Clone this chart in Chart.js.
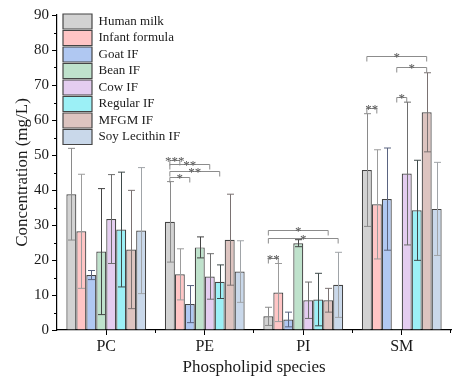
<!DOCTYPE html>
<html>
<head>
<meta charset="utf-8">
<script src="https://cdn.jsdelivr.net/npm/chart.js@4.4.1/dist/chart.umd.min.js"></script>
<style>
  html, body { margin: 0; padding: 0; background: #ffffff; }
  #wrap { width: 459px; height: 380px; }
</style>
</head>
<body>
<div id="wrap"><canvas id="c" width="459" height="380"></canvas></div>
<script>
// ---- data ----
const categories = ['PC', 'PE', 'PI', 'SM'];
const seriesNames = ['Human milk', 'Infant formula', 'Goat IF', 'Bean IF', 'Cow IF', 'Regular IF', 'MFGM IF', 'Soy Lecithin IF'];

const humanMilk      = [38.8, 30.9, 3.9, 45.7];
const infantFormula  = [28.2, 15.9, 10.7, 35.9];
const goatIF         = [15.7, 7.4, 3.0, 37.4];
const beanIF         = [22.4, 23.6, 24.8, 0.3];
const cowIF          = [31.7, 15.3, 8.5, 44.7];
const regularIF      = [28.7, 13.8, 8.7, 34.2];
const mfgmIF         = [23.0, 25.8, 8.5, 62.2];
const soyIF          = [28.4, 16.7, 12.9, 34.6];

const humanMilkErr     = [13.1, 11.5, 2.6, 16.1];
const infantFormulaErr = [16.3, 7.3, 8.3, 15.6];
const goatIFErr        = [1.3, 5.3, 2.1, 14.6];
const beanIFErr        = [18.0, 3.0, 1.0, 0];
const cowIFErr         = [12.7, 6.5, 5.2, 20.4];
const regularIFErr     = [16.4, 4.8, 7.5, 14.3];
const mfgmIFErr        = [16.9, 13.0, 3.4, 11.3];
const soyIFErr         = [18.0, 8.8, 9.3, 13.3];

const yTicks = [0, 10, 20, 30, 40, 50, 60, 70, 80, 90];

// significance brackets: category index, from series, to series, level (mg/L), label
const bracketCat   = [1, 1, 1, 1, 2, 2, 2, 3, 3, 3, 3];
const bracketFrom  = [0, 0, 0, 0, 0, 0, 0, 0, 3, 3, 0];
const bracketTo    = [1, 4, 5, 2, 6, 7, 1, 6, 6, 4, 1];
const bracketLevel = [48.6, 47.4, 45.5, 43.8, 28.6, 26.2, 20.7, 78.4, 75.2, 66.5, 63.5];
const bracketLabel = ['***', '**', '**', '*', '*', '*', '**', '*', '*', '*', '**'];

// ---- styles ----
const fills = ['#d2d2d2', '#ffc5c5', '#b0c8f2', '#bfe2cc', '#e4cdf0', '#9cf0f6', '#ddc4c0', '#c9d8ea'];
const errColors = ['#8a8a8a', '#9c9c9c', '#5a6480', '#444444', '#6e6e6e', '#3f4a4a', '#7a7272', '#a0a4a8'];
const values = [humanMilk, infantFormula, goatIF, beanIF, cowIF, regularIF, mfgmIF, soyIF];
const errors = [humanMilkErr, infantFormulaErr, goatIFErr, beanIFErr, cowIFErr, regularIFErr, mfgmIFErr, soyIFErr];

const SERIF = "'Liberation Serif', 'Times New Roman', serif";
Chart.defaults.font.family = SERIF;
Chart.defaults.color = '#1a1a1a';

const datasets = seriesNames.map((name, i) => ({
  label: name,
  data: values[i],
  errors: errors[i],
  errorColor: errColors[i],
  backgroundColor: fills[i],
  borderColor: '#454545',
  borderWidth: 1.2,
  barPercentage: 1.0,
  categoryPercentage: 0.81
}));

const errorBarPlugin = {
  id: 'errorBars',
  afterDatasetsDraw(chart) {
    const ctx = chart.ctx;
    const ys = chart.scales.y;
    ctx.save();
    chart.data.datasets.forEach((ds, i) => {
      const meta = chart.getDatasetMeta(i);
      meta.data.forEach((el, j) => {
        const e = ds.errors[j];
        if (!e) return;
        const v = ds.data[j];
        const yt = ys.getPixelForValue(v + e);
        const yb = ys.getPixelForValue(Math.max(0, v - e));
        const x = Math.round(el.x) + 0.5;
        ctx.strokeStyle = ds.errorColor;
        ctx.lineWidth = 1;
        ctx.beginPath();
        ctx.moveTo(x, yt); ctx.lineTo(x, yb);
        ctx.moveTo(x - 3.5, yt); ctx.lineTo(x + 3.5, yt);
        ctx.moveTo(x - 3.5, yb); ctx.lineTo(x + 3.5, yb);
        ctx.stroke();
      });
    });
    ctx.restore();
  }
};

const bracketPlugin = {
  id: 'brackets',
  afterDatasetsDraw(chart) {
    const ctx = chart.ctx;
    const ys = chart.scales.y;
    ctx.save();
    ctx.strokeStyle = '#8c8c8c';
    ctx.fillStyle = '#555555';
    ctx.lineWidth = 1;
    ctx.font = '13px ' + SERIF;
    ctx.textAlign = 'center';
    ctx.textBaseline = 'alphabetic';
    for (let k = 0; k < bracketCat.length; k++) {
      const a = chart.getDatasetMeta(bracketFrom[k]).data[bracketCat[k]];
      const b = chart.getDatasetMeta(bracketTo[k]).data[bracketCat[k]];
      const y = Math.round(ys.getPixelForValue(bracketLevel[k])) + 0.5;
      const x1 = a.x, x2 = b.x;
      ctx.beginPath();
      ctx.moveTo(x1, y + 5); ctx.lineTo(x1, y); ctx.lineTo(x2, y); ctx.lineTo(x2, y + 5);
      ctx.stroke();
      ctx.fillText(bracketLabel[k], (x1 + x2) / 2, y + 4);
    }
    ctx.restore();
  }
};

const minorTickPlugin = {
  id: 'minorTicks',
  afterDraw(chart) {
    const ctx = chart.ctx;
    const ys = chart.scales.y, xs = chart.scales.x;
    const ca = chart.chartArea;
    ctx.save();
    ctx.strokeStyle = '#000';
    ctx.lineWidth = 1;
    ctx.beginPath();
    for (let i = 0; i < yTicks.length - 1; i++) {
      const y = Math.round(ys.getPixelForValue((yTicks[i] + yTicks[i + 1]) / 2)) + 0.5;
      ctx.moveTo(ca.left, y); ctx.lineTo(ca.left - 3, y);
    }
    for (let i = 0; i < categories.length; i++) {
      const xb = i < categories.length - 1
        ? (xs.getPixelForValue(i) + xs.getPixelForValue(i + 1)) / 2
        : ca.right;
      const x = Math.round(xb) - 0.5;
      ctx.moveTo(x, ca.bottom); ctx.lineTo(x, ca.bottom + 3);
    }
    ctx.stroke();
    ctx.restore();
  }
};

const legendPlacePlugin = {
  id: 'legendPlace',
  afterLayout(chart) {
    const lg = chart.legend;
    if (!lg) return;
    const w = lg.width, h = lg.height;
    lg.left = chart.chartArea.left + 4.5;
    lg.top = chart.chartArea.top - 2.5;
    lg.right = lg.left + w;
    lg.bottom = lg.top + h;
  }
};

new Chart(document.getElementById('c'), {
  type: 'bar',
  data: { labels: categories, datasets },
  plugins: [legendPlacePlugin, errorBarPlugin, bracketPlugin, minorTickPlugin],
  options: {
    responsive: false,
    animation: false,
    devicePixelRatio: 1,
    layout: { padding: { left: 0, right: 8, top: 15, bottom: 0 } },
    plugins: {
      tooltip: { enabled: false },
      legend: {
        position: 'chartArea',
        align: 'start',
        labels: {
          boxWidth: 29,
          boxHeight: 15,
          padding: 1.5,
          color: '#1a1a1a',
          font: { size: 13, family: SERIF }
        }
      }
    },
    scales: {
      x: {
        type: 'category',
        offset: true,
        grid: {
          display: true,
          offset: false,
          drawOnChartArea: false,
          drawTicks: true,
          tickLength: 5,
          color: '#000',
          tickColor: '#000'
        },
        border: { display: true, color: '#000', width: 1.2 },
        ticks: { color: '#1a1a1a', padding: 2, font: { size: 16, family: SERIF }, maxRotation: 0 },
        title: {
          display: true,
          text: 'Phospholipid species',
          color: '#1a1a1a',
          font: { size: 17, family: SERIF },
          padding: { top: 0, bottom: 2 }
        },
        afterFit(scale) { scale.height = 50; }
      },
      y: {
        min: 0,
        max: 90,
        afterBuildTicks(scale) { scale.ticks = yTicks.map(v => ({ value: v })); },
        grid: {
          display: true,
          drawOnChartArea: false,
          drawTicks: true,
          tickLength: 5,
          color: '#000',
          tickColor: '#000'
        },
        border: { display: true, color: '#000', width: 1.2 },
        ticks: { color: '#1a1a1a', padding: 3, font: { size: 15, family: SERIF } },
        title: {
          display: true,
          text: 'Concentration (mg/L)',
          color: '#1a1a1a',
          font: { size: 17, family: SERIF },
          padding: { top: 12, bottom: 0 }
        },
        afterFit(scale) { scale.width = 57; }
      }
    }
  }
});
</script>
</body>
</html>
